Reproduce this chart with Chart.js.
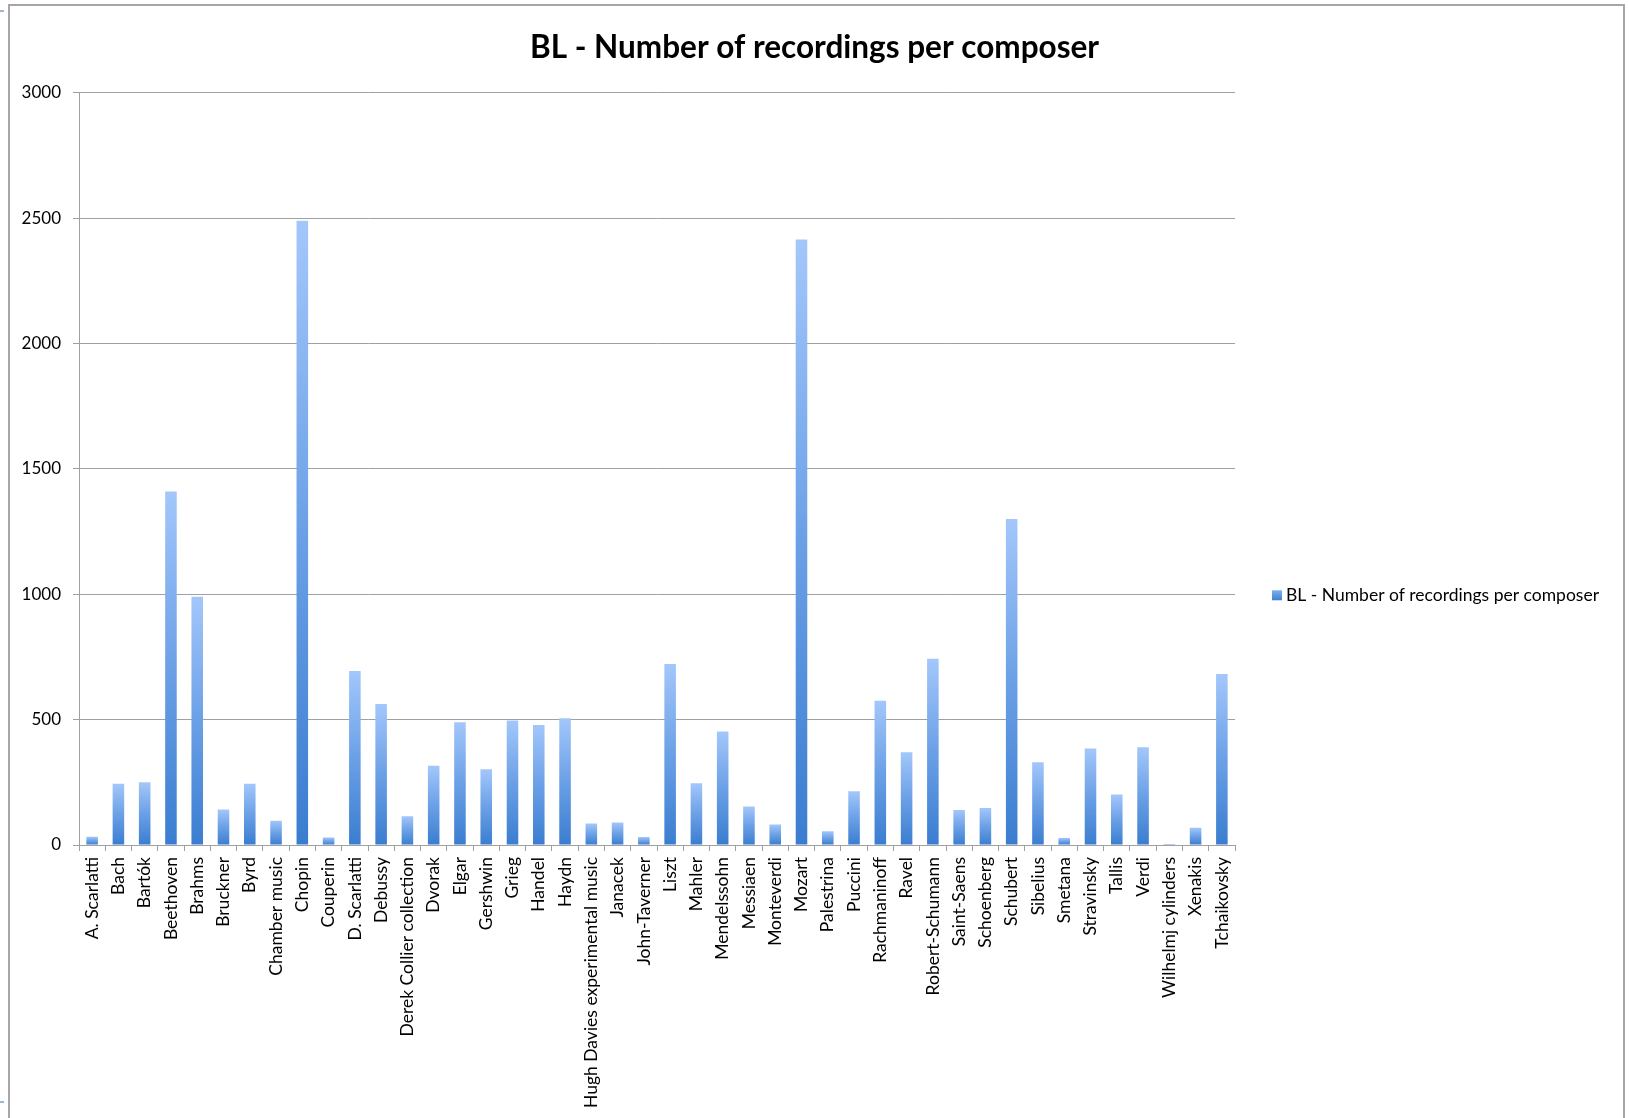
<!DOCTYPE html>
<html>
<head>
<meta charset="utf-8">
<script src="https://cdn.jsdelivr.net/npm/chart.js@4.4.1/dist/chart.umd.min.js"></script>
<style>
  html, body { margin: 0; padding: 0; background: #fff; }
  #wrap { width: 1629px; height: 1118px; position: relative; }
</style>
</head>
<body>
<div id="wrap"><canvas id="c" width="1629" height="1118"></canvas></div>
<script>
const chartTitle = 'BL - Number of recordings per composer';
const seriesName = 'BL - Number of recordings per composer';
const composers = [
  'A. Scarlatti', 'Bach', 'Bartók', 'Beethoven', 'Brahms', 'Bruckner', 'Byrd',
  'Chamber music', 'Chopin', 'Couperin', 'D. Scarlatti', 'Debussy',
  'Derek Collier collection', 'Dvorak', 'Elgar', 'Gershwin', 'Grieg', 'Handel',
  'Haydn', 'Hugh Davies experimental music', 'Janacek', 'John-Taverner', 'Liszt',
  'Mahler', 'Mendelssohn', 'Messiaen', 'Monteverdi', 'Mozart', 'Palestrina',
  'Puccini', 'Rachmaninoff', 'Ravel', 'Robert-Schumann', 'Saint-Saens',
  'Schoenberg', 'Schubert', 'Sibelius', 'Smetana', 'Stravinsky', 'Tallis',
  'Verdi', 'Wilhelmj cylinders', 'Xenakis', 'Tchaikovsky'
];
const recordings = [
  33, 244, 250, 1410, 990, 142, 244,
  97, 2490, 30, 694, 562,
  115, 316, 490, 302, 497, 479,
  506, 86, 90, 32, 722,
  246, 453, 154, 82, 2415, 55,
  214, 575, 370, 743, 140,
  148, 1300, 330, 28, 385, 201,
  390, 4, 69, 682
];
const yTicks = [0, 500, 1000, 1500, 2000, 2500, 3000];

const FONT = 'Lato, "Open Sans", sans-serif';
const LIGHT = '#a3c7fb';
const DARK = '#3a7dd0';

function barGradient(ctx) {
  const chart = ctx.chart;
  if (!chart.chartArea || ctx.type !== 'data') return '#5f98e2';
  const ys = chart.scales.y;
  const top = ys.getPixelForValue(ctx.raw);
  const bot = ys.getPixelForValue(0);
  if (!isFinite(top) || !isFinite(bot) || Math.abs(bot - top) < 1) return DARK;
  const g = chart.ctx.createLinearGradient(0, top, 0, bot);
  g.addColorStop(0, LIGHT);
  g.addColorStop(0.5, '#6ba0e6');
  g.addColorStop(1, DARK);
  return g;
}

const framePlugin = {
  id: 'frame',
  beforeDraw(chart) {
    const c = chart.ctx;
    c.save();
    c.fillStyle = '#ffffff';
    c.fillRect(0, 0, chart.width, chart.height);
    c.strokeStyle = '#a6a6a6';
    c.lineWidth = 2;
    c.beginPath();
    c.moveTo(9, 1118);
    c.lineTo(9, 5);
    c.lineTo(1624, 5);
    c.lineTo(1624, 1118);
    c.stroke();
    c.fillStyle = '#9fb8d2';
    c.fillRect(0, 10, 4, 2);
    c.fillRect(0, 1101, 4, 2);
    c.restore();
  }
};

const legendPlugin = {
  id: 'sideLegend',
  afterDraw(chart) {
    const c = chart.ctx;
    const ys = chart.scales.y;
    const cy = ys.getPixelForValue(1000) + 1;
    const x0 = chart.chartArea.right + 37;
    c.save();
    const g = c.createLinearGradient(0, cy - 5, 0, cy + 5);
    g.addColorStop(0, '#7fb0f0');
    g.addColorStop(1, '#3f80d2');
    c.fillStyle = g;
    c.fillRect(x0, cy - 5, 10, 10);
    c.fillStyle = '#000';
    c.font = '17.5px ' + FONT;
    c.textBaseline = 'middle';
    c.textAlign = 'left';
    c.fillText(chart.data.datasets[0].label, x0 + 14, cy);
    c.restore();
  }
};

new Chart(document.getElementById('c'), {
  type: 'bar',
  data: {
    labels: composers,
    datasets: [{
      label: seriesName,
      data: recordings,
      backgroundColor: barGradient,
      borderWidth: 0,
      barPercentage: 0.44,
      categoryPercentage: 1.0,
      yAxisID: 'y'
    }]
  },
  options: {
    responsive: false,
    animation: false,
    devicePixelRatio: 1,
    layout: { padding: { left: 0, right: 0, top: 0, bottom: 0 } },
    plugins: {
      legend: { display: false },
      tooltip: { enabled: false },
      title: {
        display: true,
        text: chartTitle,
        color: '#000',
        font: { family: FONT, size: 31.5, weight: 'bold' },
        padding: { top: 29, bottom: 26 }
      }
    },
    scales: {
      x: {
        grid: { display: true, drawOnChartArea: false, drawTicks: true, tickLength: 6, color: '#a0a0a0', offset: true },
        border: { display: true, color: '#a0a0a0', width: 1 },
        ticks: {
          autoSkip: false, maxRotation: 90, minRotation: 90, padding: 6,
          color: '#000', font: { family: FONT, size: 17.5 }
        },
        afterFit(scale) { scale.height = 1118 - 845; }
      },
      y: {
        position: 'left',
        min: 0, max: 3000,
        afterBuildTicks(scale) { scale.ticks = yTicks.map(v => ({ value: v })); },
        grid: { color: '#a0a0a0', lineWidth: 1, drawTicks: true, tickLength: 6 },
        border: { display: true, color: '#a0a0a0', width: 1 },
        ticks: {
          padding: 12, color: '#000', font: { family: FONT, size: 17 },
          callback: (v) => String(v)
        },
        afterFit(scale) { scale.width = 79; }
      },
      yRight: {
        position: 'right',
        display: true,
        grid: { display: false, drawTicks: false },
        border: { display: false },
        ticks: { display: false },
        afterFit(scale) { scale.width = 1629 - 1235; }
      }
    }
  },
  plugins: [framePlugin, legendPlugin]
});
</script>
</body>
</html>
